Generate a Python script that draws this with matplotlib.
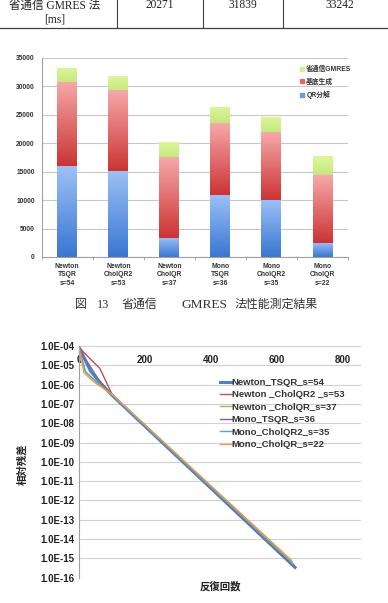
import matplotlib
matplotlib.use('Agg')
import matplotlib.pyplot as plt
import numpy as np
from matplotlib.colors import LinearSegmentedColormap
from matplotlib.lines import Line2D
from matplotlib.patches import Patch
from matplotlib.ticker import FixedLocator, NullLocator

plt.rcParams['font.family'] = ['Liberation Sans', 'Noto Sans CJK JP']

# ---------------- data ----------------
table_row_label = '省通信 GMRES 法\n[ms]'
table_values = ['20271', '31839', '33242']

bar_categories = ['Newton\nTSQR\ns=54', 'Newton\nCholQR2\ns=53', 'Newton\nCholQR\ns=37',
                  'Mono\nTSQR\ns=36', 'Mono\nCholQR2\ns=35', 'Mono\nCholQR\ns=22']
qr_decomp = [15920, 15160, 3400, 10950, 10070, 2460]
basis_gen = [14807, 14222, 14160, 12640, 11880, 11940]
gmres_part = [2515, 2457, 2711, 2810, 2690, 3335]
bar_series_names = ['QR分解', '基底生成', '省通信GMRES']
bar_yticks = [0, 5000, 10000, 15000, 20000, 25000, 30000, 35000]

caption_parts = ['図', '13', '省通信', 'GMRES', '法性能測定結果']

series_names = ['Newton_TSQR_s=54', 'Newton _CholQR2 _s=53', 'Newton _CholQR_s=37',
                'Mono_TSQR_s=36', 'Mono_CholQR2_s=35', 'Mono_CholQR_s=22']
newton_tsqr_x = [0, 15, 35, 60, 100, 655]
newton_tsqr_y = [8.5e-5, 2.5e-5, 5e-6, 1.5e-6, 2.8e-7, 3.4e-16]
newton_cholqr2_x = [0, 30, 63, 100, 648]
newton_cholqr2_y = [8.5e-5, 2.5e-5, 7e-6, 3.2e-7, 4.5e-16]
newton_cholqr_x = [0, 18, 50, 100, 646]
newton_cholqr_y = [8.5e-5, 5e-6, 1.5e-6, 3e-7, 7e-16]
mono_tsqr_x = [0, 25, 60, 100, 652]
mono_tsqr_y = [8.5e-5, 1.5e-5, 1.8e-6, 2.8e-7, 4e-16]
mono_cholqr2_x = [0, 20, 55, 100, 650]
mono_cholqr2_y = [8.5e-5, 4.5e-6, 1.3e-6, 2.8e-7, 5e-16]
mono_cholqr_x = [0, 15, 50, 100, 644]
mono_cholqr_y = [8.5e-5, 4e-6, 1.2e-6, 3.2e-7, 8e-16]
line_xticks = [0, 200, 400, 600, 800]
line_yexponents = list(range(-16, -3))

# ---------------- figure ----------------
W, H = 388, 603
fig = plt.figure(figsize=(W / 100, H / 100), dpi=100)

def fx(px):
    return px / W

def fy(py):
    return 1 - py / H

SERIF = ['Liberation Serif', 'Noto Sans CJK JP']

# table fragment
tab_col = '#404040'
for xv in [117.3, 203.3, 283.3]:
    fig.add_artist(Line2D([fx(xv), fx(xv)], [fy(0), fy(27.5)], color=tab_col, lw=0.8))
fig.add_artist(Line2D([0, 1], [fy(27.5), fy(27.5)], color=tab_col, lw=0.9))
lines = table_row_label.split('\n')
fig.text(fx(54.5), fy(5.5), lines[0], ha='center', va='center', fontsize=8.3,
         family=SERIF, color='#222222')
fig.text(fx(54.5), fy(19.5), lines[1], ha='center', va='center', fontsize=8.3,
         family=SERIF, color='#222222')
for xc, v in zip([160, 243, 340], table_values):
    fig.text(fx(xc), fy(5.5), v, ha='center', va='center', fontsize=8.3,
             family=SERIF, color='#222222')

# ---------------- bar chart ----------------
ax1 = fig.add_axes([fx(41.7), fy(257), fx(348 - 41.7), (257 - 57.7) / H])
xpos = np.arange(len(bar_categories))
grads = [
    LinearSegmentedColormap.from_list('b', ['#3a76d2', '#9cc1f6']),
    LinearSegmentedColormap.from_list('r', ['#cc3434', '#f6a8a8']),
    LinearSegmentedColormap.from_list('g', ['#c6e880', '#dcf79a']),
]
solid = ['#6a9ce6', '#e06a6a', '#d2f08c']
bottoms = np.zeros(len(xpos))
grad = np.linspace(0, 1, 64).reshape(-1, 1)
for vals, cm, sc in zip([qr_decomp, basis_gen, gmres_part], grads, solid):
    bars = ax1.bar(xpos, vals, width=0.39, bottom=bottoms, color='none', edgecolor='none', zorder=2)
    for p in bars:
        x0, y0 = p.get_x(), p.get_y()
        w, h = p.get_width(), p.get_height()
        im = ax1.imshow(grad, extent=[x0, x0 + w, y0, y0 + h], origin='lower', cmap=cm,
                        aspect='auto', zorder=2, interpolation='bilinear')
        im.set_clip_path(p)
    bottoms = bottoms + np.array(vals)
ax1.set_xlim(-0.5, len(xpos) - 0.5)
ax1.set_ylim(0, 35000)
ax1.set_yticks(bar_yticks)
ax1.set_yticklabels([str(v) for v in bar_yticks], fontsize=4.8, fontweight='bold', color='#333333')
ax1.set_xticks(xpos)
ax1.set_xticklabels(bar_categories, fontsize=4.9, fontweight='bold', color='#333333', linespacing=1.32)
ax1.xaxis.set_minor_locator(FixedLocator(np.arange(-0.5, len(xpos), 1.0)))
ax1.tick_params(axis='x', which='major', length=0, pad=4)
ax1.tick_params(axis='x', which='minor', length=2.5, color='#a0a0a0', width=0.6)
ax1.tick_params(axis='y', length=0, pad=5)
ax1.grid(axis='y', color='#c8c8c8', lw=0.8, zorder=0)
ax1.set_axisbelow(True)
for s in ['top', 'right']:
    ax1.spines[s].set_visible(False)
for s in ['left', 'bottom']:
    ax1.spines[s].set_color('#a0a0a0')
    ax1.spines[s].set_linewidth(0.8)
handles = [Patch(color=c) for c in solid]
leg1 = ax1.legend(handles[::-1], bar_series_names[::-1], loc='upper left',
                  bbox_to_anchor=(fx(299.5), fy(66)), bbox_transform=fig.transFigure,
                  frameon=False, prop={'size': 4.9, 'weight': 'bold'},
                  handlelength=0.6, handleheight=0.6, handletextpad=0.4,
                  labelspacing=0.75, borderpad=0, borderaxespad=0)
for t in leg1.get_texts():
    t.set_color('#333333')

# caption (pieces placed at their measured positions)
cap_specs = [(81, 8.6), (103, 8.8), (139, 8.6), (204, 9.6), (276.5, 8.6)]
for part, (xc, fs) in zip(caption_parts, cap_specs):
    fig.text(fx(xc), fy(305), part, ha='center', va='center', fontsize=fs,
             family=SERIF, color='#333333')

# ---------------- line chart ----------------
ax2 = fig.add_axes([fx(79), fy(577.7), fx(361 - 79), (577.7 - 346) / H])
colors = ['#4f81bd', '#c0504d', '#9bbb59', '#8064a2', '#4bacc6', '#f79646']
widths = [2.2, 1.0, 1.0, 1.0, 1.0, 1.0]
data = [(newton_tsqr_x, newton_tsqr_y), (newton_cholqr2_x, newton_cholqr2_y),
        (newton_cholqr_x, newton_cholqr_y), (mono_tsqr_x, mono_tsqr_y),
        (mono_cholqr2_x, mono_cholqr2_y), (mono_cholqr_x, mono_cholqr_y)]
for (xs, ys), c, lw, name in zip(data, colors, widths, series_names):
    ax2.plot(xs, ys, color=c, lw=lw, label=name, zorder=3)
ax2.set_yscale('log')
ax2.set_xlim(0, 855)
ax2.set_ylim(1e-16, 1e-4)
yt = [10.0 ** e for e in line_yexponents]
ax2.yaxis.set_major_locator(FixedLocator(yt))
ax2.yaxis.set_minor_locator(NullLocator())
ax2.set_yticklabels(['1.0E-%02d' % (-e) for e in line_yexponents], fontsize=7,
                    fontweight='bold', color='#222222')
ax2.set_xticks(line_xticks)
ax2.set_xticklabels([str(v) for v in line_xticks], fontsize=7, fontweight='bold', color='#222222')
ax2.xaxis.set_ticks_position('top')
ax2.tick_params(axis='x', length=0, pad=-13.5)
ax2.tick_params(axis='y', length=0, pad=3.5)
ax2.grid(axis='y', which='major', color='#d0d0d0', lw=0.8, zorder=0)
ax2.set_axisbelow(True)
for s in ['top', 'bottom', 'right']:
    ax2.spines[s].set_visible(False)
ax2.spines['left'].set_color('#a0a0a0')
ax2.spines['left'].set_linewidth(0.8)
ax2.set_ylabel('相対残差', fontsize=7.5, fontweight='bold', color='#222222')
ax2.yaxis.set_label_coords(fx(27.5), fy(464), transform=fig.transFigure)
ax2.set_xlabel('反復回数', fontsize=7.5, fontweight='bold', color='#222222')
ax2.xaxis.set_label_position('bottom')
ax2.xaxis.set_label_coords(fx(220), fy(586), transform=fig.transFigure)
ax2.xaxis.label.set_va('center')
leg2 = ax2.legend(loc='upper left', bbox_to_anchor=(fx(220), fy(378)), bbox_transform=fig.transFigure,
                  frameon=False, prop={'size': 6.8, 'weight': 'bold'},
                  handlelength=1.25, handletextpad=0.0, labelspacing=0.36,
                  borderpad=0, borderaxespad=0)
for t in leg2.get_texts():
    t.set_color('#333333')

fig.savefig('out.png', dpi=100)
